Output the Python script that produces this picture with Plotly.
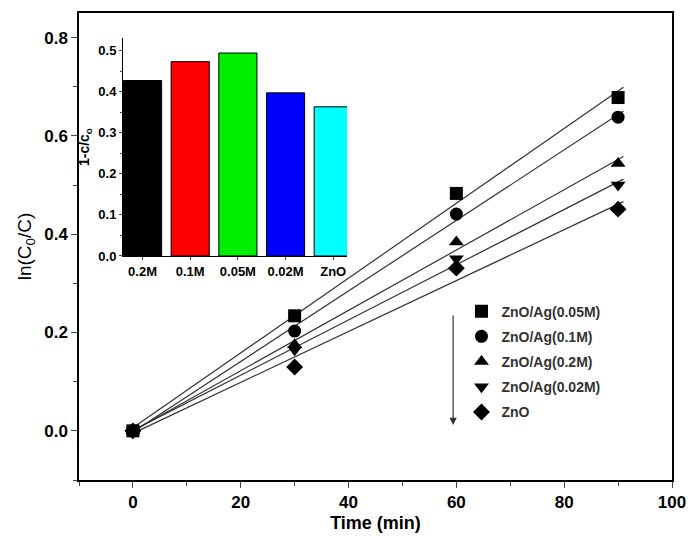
import numpy as np
import plotly.graph_objects as go

time_min = [0, 30, 60, 90]
series_names = ["ZnO/Ag(0.05M)", "ZnO/Ag(0.1M)", "ZnO/Ag(0.2M)", "ZnO/Ag(0.02M)", "ZnO"]
s_005 = [0.0, 0.234, 0.483, 0.678]
s_01 = [0.0, 0.203, 0.441, 0.638]
s_02 = [0.0, 0.175, 0.384, 0.544]
s_002 = [0.0, 0.165, 0.350, 0.500]
s_zno = [0.0, 0.130, 0.331, 0.451]
symbols = ["square", "circle", "triangle-up", "triangle-down", "diamond"]

bar_cats = ["0.2M", "0.1M", "0.05M", "0.02M", "ZnO"]
bar_vals = [0.427, 0.473, 0.494, 0.397, 0.363]
bar_colors = ["#000000", "#ff0000", "#00ee00", "#0000ff", "#00ffff"]

fig = go.Figure()
series = [s_005, s_01, s_02, s_002, s_zno]
fit_x = np.array([0, 91])
for i, (name, ys, sym) in enumerate(zip(series_names, series, symbols)):
    k, b = np.polyfit(time_min, ys, 1)
    fig.add_trace(go.Scatter(x=fit_x, y=k * fit_x + b, mode="lines",
                             line=dict(color="#333333", width=1.2),
                             showlegend=False, hoverinfo="skip"))
for i, (name, ys, sym) in enumerate(zip(series_names, series, symbols)):
    fig.add_trace(go.Scatter(x=time_min, y=ys, mode="markers", name=name,
                             legendgroup=name,
                             marker=dict(symbol=sym, size=13, color="black")))

fig.add_trace(go.Bar(x=bar_cats, y=bar_vals, marker=dict(color=bar_colors,
                     line=dict(color="black", width=1)), width=0.8,
                     xaxis="x2", yaxis="y2", showlegend=False))

tick_font = dict(family="Arial, Liberation Sans", size=17, color="black", weight="bold")
fig.update_layout(
    width=691, height=536,
    margin=dict(l=79, r=19, t=13, b=56),
    plot_bgcolor="white", paper_bgcolor="white",
    font=dict(family="Arial, Liberation Sans", color="black"),
    xaxis=dict(range=[-10, 100], dtick=20, tick0=0, ticks="outside", ticklen=6,
               minor=dict(ticks="outside", dtick=10, ticklen=4, tick0=0),
               showline=True, linecolor="black", linewidth=1.5, mirror=True,
               showgrid=False, zeroline=False, tickfont=tick_font, automargin=False,
               title=dict(text="Time (min)", standoff=5,
                          font=dict(size=18, weight="bold"))),
    yaxis=dict(range=[-0.1, 0.85], dtick=0.2, tick0=0, ticks="outside", ticklen=6,
               tickformat=".1f", automargin=False,
               minor=dict(ticks="outside", dtick=0.1, ticklen=4, tick0=0),
               showline=True, linecolor="black", linewidth=1.5, mirror=True,
               showgrid=False, zeroline=False, tickfont=tick_font,
               title=dict(text="ln(C<sub>0</sub>/C)", standoff=8,
                          font=dict(size=19))),
    xaxis2=dict(domain=[0.0742, 0.452], anchor="y2", range=[-0.41, 4.29],
                showline=True, linecolor="black", linewidth=1, ticks="outside",
                ticklen=3, showgrid=False,
                tickfont=dict(size=13, weight="bold")),
    yaxis2=dict(domain=[0.4797, 0.946], anchor="x2", range=[0, 0.53], dtick=0.1,
                tickformat=".1f", showline=True, linecolor="black", linewidth=1,
                ticks="outside", ticklen=3,
                minor=dict(ticks="outside", dtick=0.05, ticklen=2),
                showgrid=False, zeroline=False,
                tickfont=dict(size=13, weight="bold"),
                title=dict(text="1-c/c<sub>o</sub>", standoff=5,
                           font=dict(size=14, weight="bold"))),
    legend=dict(x=0.645, y=0.395, xanchor="left", yanchor="top",
                bgcolor="rgba(0,0,0,0)", traceorder="grouped", tracegroupgap=4,
                font=dict(size=14, weight="bold", color="#333333")),
    bargap=0.2,
)
fig.add_annotation(x=59.4, y=0.012, ax=59.4, ay=0.2376, xref="x", yref="y",
                   axref="x", ayref="y", showarrow=True, arrowhead=2,
                   arrowsize=1.2, arrowwidth=1.2, arrowcolor="#333333", text="")
fig.write_html("out.html")
